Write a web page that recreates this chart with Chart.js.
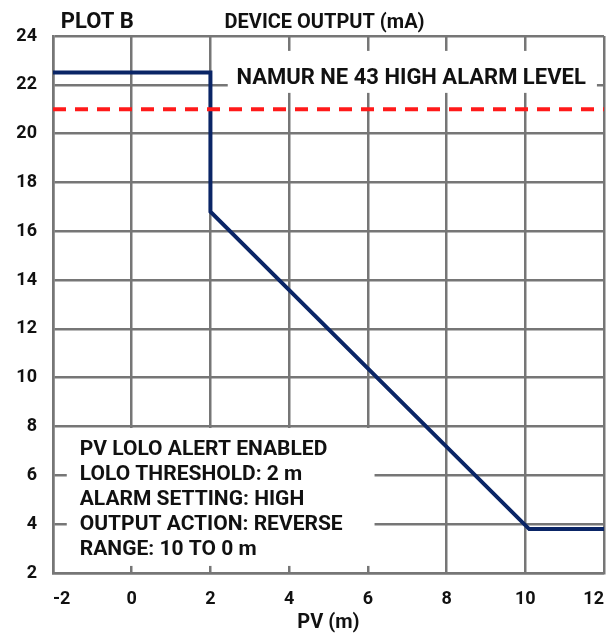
<!DOCTYPE html>
<html>
<head>
<meta charset="utf-8">
<script src="https://cdn.jsdelivr.net/npm/chart.js@4/dist/chart.umd.min.js"></script>
<style>
  html, body { margin: 0; padding: 0; background: #fff; }
  #wrap { width: 607px; height: 641px; }
</style>
</head>
<body>
<div id="wrap"><canvas id="plot" width="607" height="641"></canvas></div>
<script>
// --- data ---
const outputPV = [-2, 2, 2, 10.1, 12];
const outputMA = [22.5, 22.5, 16.8, 3.8, 3.8];
const alarmPV = [-2, 12];
const alarmMA = [21, 21];
const xTicks = [-2, 0, 2, 4, 6, 8, 10, 12];
const yTicks = [2, 4, 6, 8, 10, 12, 14, 16, 18, 20, 22, 24];

const infoLines = [
    'PV LOLO ALERT ENABLED',
    'LOLO THRESHOLD: 2 m',
    'ALARM SETTING: HIGH',
    'OUTPUT ACTION: REVERSE',
    'RANGE: 10 TO 0 m'
];

const FONT = 'Roboto, "Liberation Sans", sans-serif';
const GRID = '#767676';

const toPoints = (xs, ys) => xs.map((x, i) => ({ x, y: ys[i] }));

// labels with white backing boxes (drawn over the grid)
const labelsPlugin = {
    id: 'labels',
    beforeDatasetsDraw(chart) {
        const { ctx, scales: { x, y } } = chart;
        ctx.save();
        ctx.fillStyle = '#fff';
        // NAMUR label box
        ctx.fillRect(x.getPixelForValue(2.44), y.getPixelForValue(23.39),
            x.getPixelForValue(11.82) - x.getPixelForValue(2.44),
            y.getPixelForValue(21.67) - y.getPixelForValue(23.39));
        // info box
        ctx.fillRect(x.getPixelForValue(-1.65), y.getPixelForValue(7.94),
            x.getPixelForValue(6.17) - x.getPixelForValue(-1.65),
            y.getPixelForValue(2.29) - y.getPixelForValue(7.94));
        ctx.restore();
    },
    afterDraw(chart) {
        const { ctx, scales: { x, y }, chartArea } = chart;
        ctx.save();
        ctx.fillStyle = '#111';
        ctx.textBaseline = 'alphabetic';

        ctx.font = 'bold 22px ' + FONT;
        ctx.textAlign = 'left';
        ctx.fillText('PLOT B', x.getPixelForValue(-1.8), chartArea.top - 8);
        ctx.font = 'bold 20px ' + FONT;
        ctx.fillText('DEVICE OUTPUT (mA)', x.getPixelForValue(2.36), chartArea.top - 8);

        ctx.font = 'bold 22px ' + FONT;
        ctx.textAlign = 'center';
        ctx.fillText('NAMUR NE 43 HIGH ALARM LEVEL', x.getPixelForValue(7.1), y.getPixelForValue(22.03));

        ctx.textAlign = 'left';
        ctx.font = 'bold 21px ' + FONT;
        const x0 = x.getPixelForValue(-1.32);
        const y0 = y.getPixelForValue(6.84);
        infoLines.forEach((line, i) => ctx.fillText(line, x0, y0 + i * 25));
        ctx.restore();
    }
};

new Chart(document.getElementById('plot'), {
    type: 'scatter',
    data: {
        datasets: [
            {
                data: toPoints(alarmPV, alarmMA),
                showLine: true,
                borderColor: '#ff1a1a',
                borderWidth: 4,
                borderDash: [13, 9],
                pointRadius: 0
            },
            {
                data: toPoints(outputPV, outputMA),
                showLine: true,
                borderColor: '#0a2566',
                borderWidth: 4,
                borderJoinStyle: 'miter',
                pointRadius: 0
            }
        ]
    },
    plugins: [labelsPlugin],
    options: {
        responsive: false,
        animation: false,
        layout: { padding: { top: 36, right: 3, left: 0, bottom: 0 } },
        plugins: { legend: { display: false }, tooltip: { enabled: false } },
        scales: {
            x: {
                type: 'linear',
                min: -2, max: 12,
                afterBuildTicks: s => { s.ticks = xTicks.map(v => ({ value: v })); },
                afterFit: s => { s.height = 68; s.paddingLeft = 0; s.paddingRight = 0; },
                grid: { color: GRID, lineWidth: 2.5, drawTicks: false },
                border: { color: GRID, width: 2.5 },
                ticks: {
                    align: 'inner',
                    padding: 16,
                    color: '#111',
                    font: { family: FONT, size: 18, weight: 'bold' },
                    maxRotation: 0
                },
                title: {
                    display: true,
                    text: 'PV (m)',
                    color: '#111',
                    font: { family: FONT, size: 20, weight: 'bold' },
                    padding: { top: 0, bottom: 6 }
                }
            },
            y: {
                min: 2, max: 24,
                afterBuildTicks: s => { s.ticks = yTicks.map(v => ({ value: v })); },
                afterFit: s => { s.width = 53; },
                grid: { color: GRID, lineWidth: 2.5, drawTicks: false },
                border: { color: GRID, width: 2.5 },
                ticks: {
                    padding: 16,
                    color: '#111',
                    font: { family: FONT, size: 18, weight: 'bold' }
                }
            }
        }
    }
});
</script>
</body>
</html>
